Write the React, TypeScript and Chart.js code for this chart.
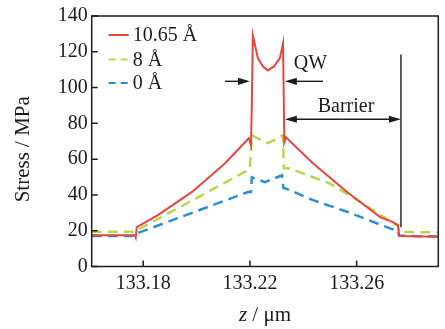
import React, { useEffect, useRef } from "react";
import { Chart, registerables } from "chart.js";

Chart.register(...registerables);

// ---- data ----
const seriesLabels = ["10.65 Å", "8 Å", "0 Å"];
const seriesColors = ["#e8453c", "#bdd54c", "#2b8fd6"];

const redX = [133.1607, 133.1769, 133.1772, 133.1776, 133.1855, 133.1983, 133.2106, 133.2196, 133.2204, 133.2207, 133.2211, 133.223, 133.2249, 133.2267, 133.229, 133.2312, 133.2324, 133.2329, 133.2335, 133.2436, 133.2564, 133.2688, 133.2736, 133.2755, 133.2759, 133.2906];
const redY = [17.4, 17.4, 16.2, 22, 28.7, 41.7, 57.6, 71.7, 67.8, 90, 129.1, 116.3, 111.8, 109.6, 111.8, 116.3, 124.7, 69.4, 72.2, 57.7, 41.6, 27.6, 24.8, 23.1, 17, 16.6];

const greenX = [133.1607, 133.1769, 133.178, 133.1985, 133.2192, 133.22, 133.2207, 133.2237, 133.2267, 133.2297, 133.2324, 133.2327, 133.2349, 133.2499, 133.2623, 133.2736, 133.2755, 133.2759, 133.2906];
const greenY = [19.4, 19.4, 20.6, 37, 53.8, 55, 73.4, 71.1, 68.9, 71.1, 73.4, 55, 54.8, 46.4, 35.3, 24.2, 22.6, 19.4, 19.0];

const blueX = [133.1607, 133.1769, 133.178, 133.2192, 133.2204, 133.2207, 133.2256, 133.232, 133.2326, 133.2331, 133.2436, 133.2564, 133.2725, 133.2755, 133.2759, 133.2906];
const blueY = [17.0, 17.0, 18.7, 41.6, 41.6, 49.9, 47.1, 51, 43.8, 43.8, 37.1, 30.6, 21.3, 19.8, 17.2, 16.8];

const xTickValues = [133.18, 133.22, 133.26];
const yTickValues = [0, 20, 40, 60, 80, 100, 120, 140];

// annotation anchors in data units
const qwLeftArrow = [133.2106, 133.2200];
const qwRightArrow = [133.2474, 133.2331];
const qwArrowY = 103.5;
const qwLabel = { x: 133.2364, y: 113.5, text: "QW" };
const barrierArrow = [133.2331, 133.2766];
const barrierArrowY = 82.3;
const barrierLabel = { x: 133.256, y: 89.5, text: "Barrier" };
const barrierLine = { x: 133.2766, y1: 118.5, y2: 22 };

const FONT = "'Liberation Serif', 'Times New Roman', serif";
const INK = "#1c1c1c";

function arrow(ctx: CanvasRenderingContext2D, x1: number, y: number, x2: number) {
  const dir = x2 > x1 ? 1 : -1;
  const len = 12;
  const hw = 3.6;
  ctx.beginPath();
  ctx.moveTo(x1, y);
  ctx.lineTo(x2 - dir * len * 0.8, y);
  ctx.stroke();
  ctx.beginPath();
  ctx.moveTo(x2, y);
  ctx.lineTo(x2 - dir * len, y - hw);
  ctx.lineTo(x2 - dir * len, y + hw);
  ctx.closePath();
  ctx.fill();
}

const decor = {
  id: "decor",
  afterDatasetsDraw(chart: any) {
    const { ctx, chartArea } = chart;
    const xs = chart.scales.x;
    const ys = chart.scales.y;
    const { left, right, top, bottom } = chartArea;
    ctx.save();
    ctx.strokeStyle = INK;
    ctx.fillStyle = INK;
    ctx.lineWidth = 1.5;
    ctx.setLineDash([]);
    // frame
    ctx.strokeRect(left, top, right - left, bottom - top);
    // inward ticks
    ctx.beginPath();
    for (const v of yTickValues) {
      const py = ys.getPixelForValue(v);
      ctx.moveTo(left, py);
      ctx.lineTo(left + 6, py);
    }
    for (const v of xTickValues) {
      const px = xs.getPixelForValue(v);
      ctx.moveTo(px, bottom);
      ctx.lineTo(px, bottom - 6);
    }
    ctx.stroke();

    // annotations
    ctx.lineWidth = 1.4;
    arrow(ctx, xs.getPixelForValue(qwLeftArrow[0]), ys.getPixelForValue(qwArrowY), xs.getPixelForValue(qwLeftArrow[1]));
    arrow(ctx, xs.getPixelForValue(qwRightArrow[0]), ys.getPixelForValue(qwArrowY), xs.getPixelForValue(qwRightArrow[1]));
    const bx1 = xs.getPixelForValue(barrierArrow[0]);
    const bx2 = xs.getPixelForValue(barrierArrow[1]);
    const by = ys.getPixelForValue(barrierArrowY);
    const mid = (bx1 + bx2) / 2;
    arrow(ctx, mid, by, bx1);
    arrow(ctx, mid, by, bx2);
    ctx.beginPath();
    const lx = xs.getPixelForValue(barrierLine.x);
    ctx.moveTo(lx, ys.getPixelForValue(barrierLine.y1));
    ctx.lineTo(lx, ys.getPixelForValue(barrierLine.y2));
    ctx.stroke();

    ctx.font = `20px ${FONT}`;
    ctx.textBaseline = "middle";
    ctx.textAlign = "left";
    ctx.fillText(qwLabel.text, xs.getPixelForValue(qwLabel.x), ys.getPixelForValue(qwLabel.y));
    ctx.textAlign = "center";
    ctx.fillText(barrierLabel.text, xs.getPixelForValue(barrierLabel.x), ys.getPixelForValue(barrierLabel.y));

    // legend
    const datasets = chart.data.datasets;
    const legX = left + 17;
    const legY = [35, 59.5, 83];
    datasets.forEach((ds: any, i: number) => {
      const y = legY[i];
      ctx.strokeStyle = ds.borderColor;
      ctx.lineWidth = 2;
      ctx.setLineDash(i === 0 ? [] : [7, 5]);
      ctx.beginPath();
      ctx.moveTo(legX, y);
      ctx.lineTo(legX + 20, y);
      ctx.stroke();
      ctx.setLineDash([]);
      ctx.fillStyle = INK;
      ctx.textAlign = "left";
      ctx.textBaseline = "middle";
      ctx.font = `20px ${FONT}`;
      ctx.fillText(ds.label, legX + 24, y + 1);
    });

    // axis titles
    ctx.fillStyle = INK;
    ctx.save();
    ctx.translate(23, (top + bottom) / 2 + 8);
    ctx.rotate(-Math.PI / 2);
    ctx.textAlign = "center";
    ctx.textBaseline = "middle";
    ctx.font = `21px ${FONT}`;
    ctx.fillText("Stress / MPa", 0, 0);
    ctx.restore();

    ctx.textBaseline = "alphabetic";
    ctx.textAlign = "left";
    ctx.font = `italic 21px ${FONT}`;
    const zW = ctx.measureText("z").width;
    ctx.font = `21px ${FONT}`;
    const restW = ctx.measureText(" / μm").width;
    const cx = (left + right) / 2;
    const startX = cx - (zW + restW) / 2;
    ctx.font = `italic 21px ${FONT}`;
    ctx.fillText("z", startX, 321);
    ctx.font = `21px ${FONT}`;
    ctx.fillText(" / μm", startX + zW, 321);

    ctx.restore();
  },
};

export default function App() {
  const ref = useRef<HTMLCanvasElement | null>(null);
  useEffect(() => {
    if (!ref.current) return;
    const mk = (xs: number[], ys: number[]) => xs.map((x, i) => ({ x, y: ys[i] }));
    const chart = new Chart(ref.current, {
      type: "line",
      data: {
        datasets: [
          { label: seriesLabels[0], data: mk(redX, redY), borderColor: seriesColors[0], borderWidth: 2, pointRadius: 0, tension: 0 },
          { label: seriesLabels[1], data: mk(greenX, greenY), borderColor: seriesColors[1], borderWidth: 2.5, borderDash: [10, 6], pointRadius: 0, tension: 0 },
          { label: seriesLabels[2], data: mk(blueX, blueY), borderColor: seriesColors[2], borderWidth: 2.5, borderDash: [10, 6], pointRadius: 0, tension: 0 },
        ],
      },
      options: {
        animation: false,
        responsive: false,
        devicePixelRatio: 1,
        layout: { padding: { top: 15.5, right: 6.7, left: 0, bottom: 0 } },
        plugins: { legend: { display: false }, tooltip: { enabled: false } },
        scales: {
          x: {
            type: "linear",
            min: 133.1607,
            max: 133.2906,
            afterBuildTicks: (scale: any) => {
              scale.ticks = xTickValues.map((v) => ({ value: v }));
            },
            afterFit: (scale: any) => {
              scale.height = 62.5;
            },
            grid: { display: false, drawTicks: false },
            border: { display: false },
            ticks: {
              color: INK,
              font: { family: FONT, size: 20 },
              padding: 5,
              maxRotation: 0,
              autoSkip: false,
              callback: (v: any) => Number(v).toFixed(2),
            },
          },
          y: {
            min: 0,
            max: 140,
            afterBuildTicks: (scale: any) => {
              scale.ticks = yTickValues.map((v) => ({ value: v }));
            },
            afterFit: (scale: any) => {
              scale.width = 91.7;
            },
            grid: { display: false, drawTicks: false },
            border: { display: false },
            ticks: {
              color: INK,
              font: { family: FONT, size: 20 },
              padding: 4,
              autoSkip: false,
              callback: (v: any) => String(v),
            },
          },
        },
      },
      plugins: [decor],
    });
    return () => chart.destroy();
  }, []);
  return (
    <div style={{ position: "fixed", left: 0, top: 0, width: 445, height: 329, background: "#fff" }}>
      <canvas ref={ref} width={445} height={329} style={{ display: "block" }} />
    </div>
  );
}
